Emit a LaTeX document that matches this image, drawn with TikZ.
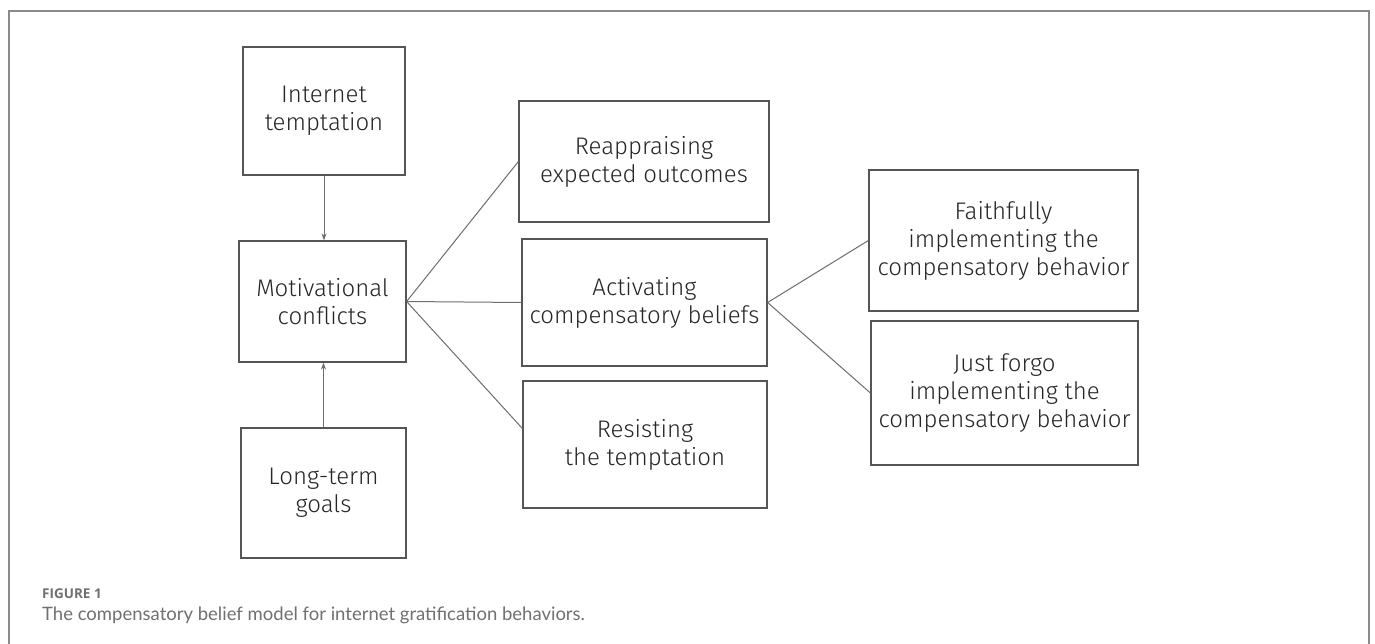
\documentclass[tikz,border=0pt]{standalone}
\usepackage{fontspec}
\setmainfont{Fira Sans Light}
\newfontfamily\capfont{Lato}
\newfontfamily\figfont{Open Sans}
\usetikzlibrary{arrows.meta,calc}
\definecolor{boxline}{HTML}{555555}
\definecolor{txt}{HTML}{262626}
\definecolor{frame}{HTML}{8A8A8A}
\definecolor{capgray}{HTML}{707070}
\begin{document}
\begin{tikzpicture}[x=1pt,y=-1pt,
  box/.style={draw=boxline,line width=1.2pt,inner sep=0pt,align=center,text=txt,
    font=\fontsize{24}{28}\selectfont},
  link/.style={draw=boxline!85,line width=1pt},
  arr/.style={link,-{Stealth[length=7pt,width=5pt]}}]
\useasboundingbox[fill=white] (0,0) rectangle (1375,644);
\draw[frame,line width=2pt] (9,644) -- (9,11) -- (1369,11) -- (1369,644);
\node[box,minimum width=162pt,minimum height=128pt] (it) at (324,111) {Internet\\temptation};
\node[box,minimum width=167pt,minimum height=121pt] (mc) at (322.5,301.5) {Motivational\\conflicts};
\node[box,minimum width=165pt,minimum height=130pt] (lt) at (323.5,493) {Long-term\\goals};
\node[box,minimum width=250pt,minimum height=121pt] (reap) at (644,161.5) {Reappraising\\expected outcomes};
\node[box,minimum width=245pt,minimum height=127pt] (act) at (644.5,302.5) {Activating\\compensatory beliefs};
\node[box,minimum width=244pt,minimum height=127pt] (res) at (645,444.5) {Resisting\\the temptation};
\node[box,minimum width=269pt,minimum height=141pt] (faith) at (1003.5,240.5) {Faithfully\\implementing the\\compensatory behavior};
\node[box,minimum width=267pt,minimum height=144pt] (forgo) at (1004.5,393) {Just forgo\\implementing the\\compensatory behavior};
\draw[arr] (it.south) -- (it.south |- mc.north);
\draw[arr] (lt.north) -- (lt.north |- mc.south);
\draw[link] (mc.east) -- (reap.west);
\draw[link] (mc.east) -- (act.west);
\draw[link] (mc.east) -- ($(res.west)+(0,-16)$);
\draw[link] (act.east) -- (faith.west);
\draw[link] (act.east) -- (forgo.west);
\node[anchor=base west,inner sep=0pt,text=capgray,font=\figfont\bfseries\fontsize{13.5}{16}\selectfont] (fig) at (42,598) {FIGURE 1};
\node[anchor=base west,inner sep=0pt,text=capgray,font=\capfont\fontsize{18.5}{20}\selectfont] (cap) at (42,620) {The compensatory belief model for internet gratification behaviors.};
\end{tikzpicture}
\end{document}
